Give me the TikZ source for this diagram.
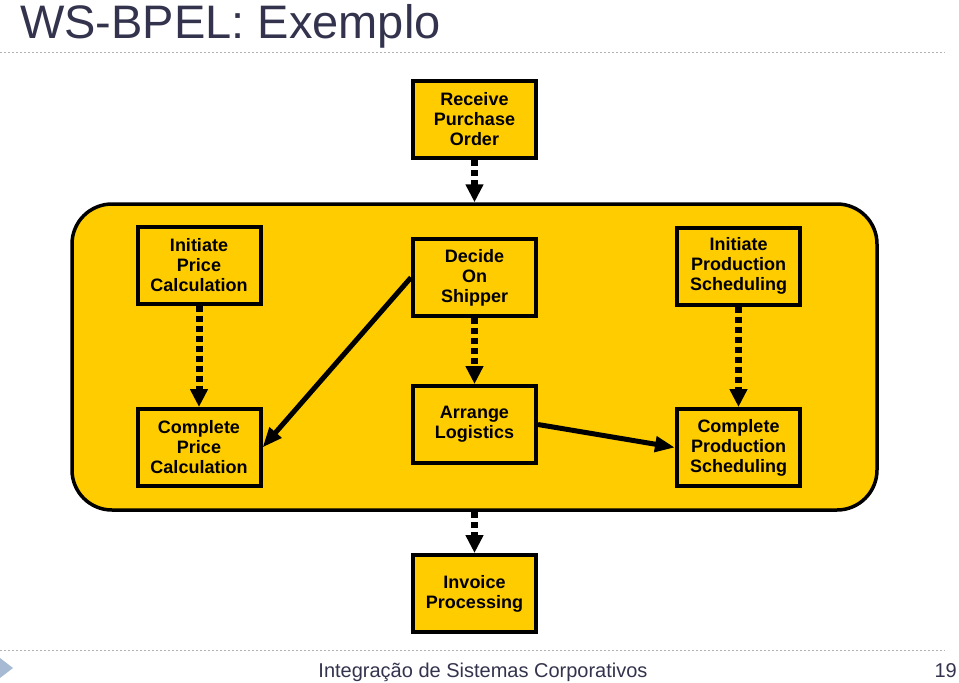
\documentclass[tikz,border=0pt]{standalone}
\usepackage{fontspec}
\setmainfont{Liberation Sans}
\usetikzlibrary{arrows.meta}
\definecolor{bpelyellow}{RGB}{255,204,0}
\definecolor{titlegray}{RGB}{51,51,77}
\definecolor{rulegray}{RGB}{178,178,178}
\definecolor{markblue}{RGB}{166,186,212}
\begin{document}
\begin{tikzpicture}[x=1pt,y=-1pt,
    activity/.style={draw=black, line width=4pt, fill=bpelyellow,
      minimum width=123pt, minimum height=77pt, inner sep=0pt,
      align=center, font=\fontsize{18}{20}\selectfont\bfseries},
    flow/.style={line width=7pt, dash pattern=on 6pt off 4pt,
      -{Triangle[width=17pt,length=18pt]}},
    link/.style={line width=5pt, -{Triangle[width=15pt,length=20pt]}},
    rule/.style={rulegray, line width=1pt, dash pattern=on 2pt off 2pt}]
  \useasboundingbox (0,0) rectangle (959,683);
  % slide frame
  \node[anchor=base west, inner sep=0pt, titlegray, font=\fontsize{47}{50}\selectfont]
    (title) at (20,38) {WS-BPEL: Exemplo};
  \draw[rule] (0,52) -- (945,52);
  \draw[rule] (0,650) -- (945,650);
  \fill[markblue] (0,658) -- (13,668) -- (0,678) -- cycle;
  \node[anchor=base, inner sep=0pt, titlegray, font=\fontsize{20}{22}\selectfont]
    (footer) at (483,677) {Integração de Sistemas Corporativos};
  \node[anchor=base east, inner sep=0pt, titlegray, font=\fontsize{20}{22}\selectfont]
    (page) at (957,677) {19};
  % process
  \node[draw=black, line width=3.5pt, fill=bpelyellow, rounded corners=40pt,
    minimum width=805pt, minimum height=306pt] (process) at (474.5,357) {};
  \node[activity] (receive) at (474.5,119.5) {Receive\\Purchase\\Order};
  \node[activity] (iprice) at (199,265) {Initiate\\Price\\Calculation};
  \node[activity] (decide) at (474.5,277.5) {Decide\\On\\Shipper};
  \node[activity] (iprod) at (738.5,266) {Initiate\\Production\\Scheduling};
  \node[activity] (cprice) at (199,447.5) {Complete\\Price\\Calculation};
  \node[activity] (arrange) at (474.5,424.5) {Arrange\\Logistics};
  \node[activity] (cprod) at (738.5,447.5) {Complete\\Production\\Scheduling};
  \node[activity] (invoice) at (474.5,593.5) {Invoice\\Processing};
  % links
  \draw[flow] (receive.south) -- (process.north);
  \draw[flow] (iprice.south) -- (cprice.north);
  \draw[flow] (decide.south) -- (arrange.north);
  \draw[flow] (iprod.south) -- (cprod.north);
  \draw[flow] (process.south) -- (invoice.north);
  \draw[link] (decide.west) -- (cprice.east);
  \draw[link] (arrange.east) -- (cprod.west);
\end{tikzpicture}
\end{document}
